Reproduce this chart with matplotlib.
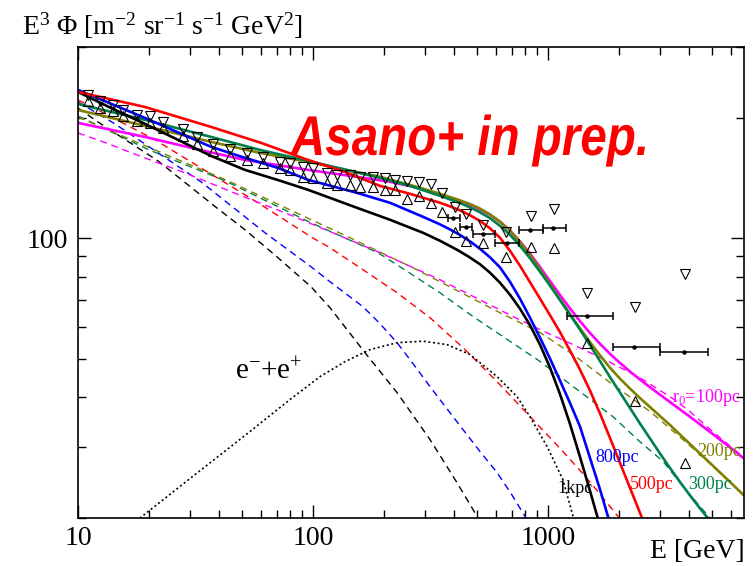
import numpy as np
import matplotlib
matplotlib.use('Agg')
import matplotlib.pyplot as plt
from matplotlib.ticker import FixedLocator, FixedFormatter, NullFormatter
from matplotlib.textpath import TextPath
from matplotlib.patches import PathPatch
from matplotlib.font_manager import FontProperties
from matplotlib.transforms import Affine2D

plt.rcParams['font.family'] = 'Liberation Serif'
plt.rcParams['mathtext.fontset'] = 'custom'
plt.rcParams['mathtext.rm'] = 'Liberation Serif'
plt.rcParams['mathtext.it'] = 'Liberation Serif:italic'
plt.rcParams['mathtext.bf'] = 'Liberation Serif:bold'

# measured data: upper (down triangles) and lower (up triangles) bounds
e_data = [11.03, 12.40, 14.09, 15.54, 17.83, 20.25, 22.99, 27.98, 32.09, 37.54,
          44.35, 52.38, 61.28, 72.37, 79.84, 90.67, 100.0, 114.7, 126.6, 143.7,
          158.5, 180.0, 202.5, 223.3, 251.2, 282.5, 317.8, 353.9, 402.1, 447.9,
          528.9, 662.6, 846.6, 1060.5, 1465.5, 2346, 3828]
f_up = [228.3, 219.3, 215.5, 209.4, 203.5, 201.2, 195.4, 186.8, 178.4, 171.4,
        166.5, 162.7, 159.8, 155.3, 153.6, 150.5, 149.7, 145.5, 143.9, 143.9,
        142.2, 142.2, 141.4, 139.8, 139.0, 138.2, 136.6, 129.7, 119.7, 115.0,
        107.9, 103.7, 113.7, 118.3, 73.0, 67.4, 81.5]
f_lo = [219.4, 210.8, 207.2, 201.3, 195.6, 193.4, 187.8, 179.5, 171.5, 164.7,
        160.0, 156.4, 153.6, 149.3, 147.6, 142.2, 141.4, 137.4, 135.9, 135.9,
        134.3, 134.3, 132.0, 132.0, 125.3, 127.5, 122.5, 116.3, 103.7, 98.5,
        97.3, 89.8, 95.1, 94.6, 54.8, 39.1, 27.5]

# binned points with horizontal bars
bin_e = [394.2, 447.9, 528.9, 669.2, 838.3, 1050, 1465.5, 2323, 3790]
bin_lo = [375.4, 422.3, 479.6, 595, 752.7, 952, 1204, 1891, 2997]
bin_hi = [422.3, 475, 595, 752.7, 952, 1193, 1891, 2997, 4796]
bin_f = [112.4, 106.7, 102.5, 97.3, 104.9, 106.1, 64.0, 53.6, 52.0]

# model curves: total (solid) and component (dashed) for each r0
e_1k = [10, 13.82, 19.28, 26.64, 36.81, 51.36, 70.97, 95.22, 153.9, 212.6, 293.8,
        347.1, 410.0, 456.6, 513.5, 566.4, 624.6, 688.9, 759.8, 838.2, 924.6,
        1019.8, 1124.7, 1240.6, 1368.3, 1509.1, 1632.2, 1664.5]
f_1k = [231.7, 211.3, 192.8, 175.9, 160.4, 148.0, 139.6, 132.0, 119.0, 111.1, 103.1,
        98.46, 93.5, 90.07, 86.02, 81.95, 77.36, 72.22, 66.64, 60.61, 54.19,
        47.49, 40.77, 34.33, 28.40, 23.37, 19.89, 19.05]
e_1k_d = [10, 12.16, 21.89, 39.42, 51.36, 70.97, 98.06, 118.1, 166.4, 227.8, 314.7,
          410.0, 498.8, 518.6]
f_1k_d = [211.3, 195.0, 155.9, 118.3, 104.9, 89.31, 75.60, 67.02, 51.75, 41.13, 31.4,
          24.5, 20.2, 19.38]

e_800 = [10, 19.28, 36.81, 51.36, 70.97, 95.22, 153.9, 212.6, 293.8, 347.1, 382.8,
         422.3, 465.7, 513.5, 566.4, 624.6, 688.9, 759.8, 838.2, 924.6, 1019.8,
         1124.7, 1240.6, 1368.3, 1509.1, 1664.5, 1835.8]
f_800 = [234.4, 199.5, 169.0, 158.6, 149.7, 139.8, 129.7, 122.5, 113.0, 108.2, 105.1,
         101.8, 98.12, 94.04, 89.53, 84.49, 77.80, 70.58, 63.25, 56.41, 50.00,
         44.06, 38.73, 33.84, 28.24, 23.57, 19.38]
e_800_d = [10, 14.37, 33.38, 62.49, 98.06, 118.1, 163.2, 192.8, 227.8, 266.4, 314.7,
           368.1, 434.8, 513.5, 606.7, 695.7, 798.4, 830.0]
f_800_d = [218.8, 192.8, 138.2, 103.1, 84.8, 77.8, 67.4, 61.13, 54.81, 48.59, 42.57,
           37.74, 33.26, 29.31, 25.98, 23.04, 20.18, 19.38]

e_500 = [10, 19.28, 36.81, 60.07, 95.22, 136.8, 192.8, 258.6, 347.1, 382.8, 422.3,
         465.7, 513.5, 566.4, 624.6, 688.9, 759.8, 838.2, 924.6, 1019.8, 1124.7,
         1240.6, 1368.3, 1509.1, 1664.5, 1835.8, 2024.8, 2233.3, 2463.2, 2586.4]
f_500 = [231.7, 212.5, 189.5, 172.9, 156.7, 146.3, 135.0, 129.0, 122.5, 120.0, 117.3,
         114.0, 110.4, 105.8, 100.2, 92.97, 85.29, 77.58, 70.58, 64.17, 58.22,
         52.36, 46.94, 41.60, 36.46, 31.67, 27.44, 23.77, 20.59, 19.16]
e_500_d = [10, 12.16, 21.27, 58.34, 98.06, 118.1, 163.2, 227.8, 314.7, 434.8, 606.7,
           838.2, 1158, 1368.3, 1616, 1986, 2085]
f_500_d = [221.2, 208.9, 175.9, 122.5, 100.7, 94.58, 83.37, 73.05, 63.25, 53.26, 43.81,
           35.84, 29.31, 26.28, 23.44, 20.18, 19.38]

e_300 = [10, 19.28, 36.81, 59.49, 95.22, 192.8, 258.6, 347.1, 382.8, 422.3, 465.7,
         513.5, 566.4, 624.6, 688.9, 759.8, 838.2, 924.6, 1019.8, 1124.7, 1240.6,
         1368.3, 1509.1, 1664.5, 1835.8, 2024.8, 2233.3, 2463.2, 2716.7, 2996.4,
         3304.8, 3645.0, 4020.4, 4434.3, 4890.7]
f_300 = [216.2, 197.3, 178.9, 166.0, 155.9, 141.4, 135.0, 127.5, 124.9, 122.3, 119.3,
         116.0, 112.1, 107.3, 101.9, 95.68, 89.05, 82.42, 76.06, 69.97, 64.35,
         59.06, 54.03, 49.29, 44.95, 41.13, 37.63, 34.42, 31.59, 28.97,
         26.66, 24.60, 22.77, 21.13, 19.67]
e_300_d = [10, 20.05, 42.22, 98.06, 189.1, 234.6, 347.1, 479.6, 924.7, 1891, 2463,
           3087, 3904, 4891, 5036]
f_300_d = [201.8, 166.0, 139.0, 109.2, 91.9, 84.8, 73.0, 63.7, 49.2, 35.8, 31.0,
           27.7, 23.3, 20.0, 19.3]

e_200 = [10, 19.28, 36.81, 59.49, 95.22, 192.8, 258.6, 347.1, 382.8, 422.3, 465.7,
         513.5, 566.4, 624.6, 688.9, 759.8, 838.2, 924.6, 1019.8, 1124.7, 1240.6,
         1368.3, 1509.1, 1664.5, 1835.8, 2024.8, 2233.3, 2463.2, 2716.7, 2996.4,
         3304.8, 3645.0, 4020.4, 4434.3, 4890.7, 5394.1, 5949.8, 6823]
f_200 = [208.9, 190.6, 173.9, 163.2, 155.0, 142.2, 135.8, 129.0, 126.6, 124.2, 121.6,
         118.5, 114.6, 109.9, 104.3, 97.79, 90.75, 83.60, 76.71, 70.37, 64.61,
         59.50, 54.97, 50.95, 47.43, 44.57, 42.08, 39.85, 37.85, 35.94,
         34.14, 32.31, 30.60, 28.97, 27.44, 25.98, 24.60, 22.77]
e_200_d = [10, 18.91, 43.49, 79.84, 143.7, 266.4, 347.1, 624.6, 924.7, 1278, 1835,
           2716, 3754, 5036, 6823]
f_200_d = [200.6, 170.9, 139.0, 117.6, 100.2, 84.3, 77.8, 65.1, 58.1, 51.2, 43.6,
           36.9, 31.4, 26.9, 22.8]

e_100 = [10, 19.28, 33.04, 51.36, 95.22, 153.9, 212.6, 293.8, 347.1, 382.8, 422.3,
         465.7, 513.5, 566.4, 624.6, 688.9, 759.8, 838.2, 924.6, 1019.8, 1124.7,
         1240.6, 1368.3, 1509.1, 1664.5, 1835.8, 2024.8, 2233.3, 2463.2, 2716.7,
         2996.4, 3304.8, 3645.0, 4020.4, 4434.3, 4890.7, 5394.1, 5949.8, 6823]
f_100 = [193.9, 178.9, 166.0, 156.7, 148.0, 142.2, 138.2, 132.7, 128.2, 126.0, 123.7,
         121.1, 118.0, 114.3, 109.8, 104.4, 98.18, 91.49, 84.64, 78.11, 72.09,
         66.71, 62.02, 57.95, 54.44, 51.40, 48.76, 46.41, 44.34, 42.42,
         40.63, 38.95, 37.33, 35.78, 34.27, 32.81, 31.39, 30.01, 28.15]
e_100_d = [10, 12.78, 17.83, 28.53, 48.43, 79.84, 189.1, 347.1, 709.8, 924.7, 1278,
           1783, 2463, 3402, 4021, 4891, 6823]
f_100_d = [183.1, 173.9, 161.3, 145.5, 128.2, 114.3, 92.4, 78.7, 63.7, 59.1, 54.2,
           49.4, 44.8, 39.7, 36.88, 33.3, 28.3]

# e- + e+ source component (dotted)
e_src = [16.98, 18.36, 29.97, 51.36, 79.84, 107.1, 136.8, 174.8, 227.8, 293.8,
         371.7, 465.6, 606.7, 738.2, 838.3, 990, 1158, 1278, 1303]
f_src = [19.4, 20.0, 25.10, 32.14, 39.53, 45.09, 49.14, 52.65, 54.8, 55.28,
         54.2, 51.2, 45.1, 40.2, 35.8, 30.2, 24.9, 20.2, 19.4]

GREEN = '#00804a'
OLIVE = '#808000'

fig = plt.figure(figsize=(7.55, 5.66), dpi=100)
ax = fig.add_axes([78/755, 1-518/566, (744-78)/755, (518-47)/566])
ax.set_xscale('log')
ax.set_yscale('log')

dash = (5, 3.5)
for e, f, c in [(e_1k_d, f_1k_d, 'black'), (e_800_d, f_800_d, 'blue'),
                (e_500_d, f_500_d, 'red'), (e_300_d, f_300_d, GREEN),
                (e_200_d, f_200_d, OLIVE), (e_100_d, f_100_d, 'magenta')]:
    ax.plot(e, f, color=c, lw=1.0, dashes=dash)

ax.plot(e_src, f_src, color='black', lw=1.2, linestyle=(0, (1.2, 1.6)))

for e, f, c in [(e_100, f_100, 'magenta'), (e_200, f_200, OLIVE),
                (e_300, f_300, GREEN), (e_1k, f_1k, 'black'),
                (e_800, f_800, 'blue'), (e_500, f_500, 'red')]:
    ax.plot(e, f, color=c, lw=1.9, solid_joinstyle='round')

ax.plot(e_data, f_up, 'v', mfc='none', mec='black', ms=7.2, mew=0.8, zorder=5)
ax.plot(e_data, f_lo, '^', mfc='none', mec='black', ms=7.2, mew=0.8, zorder=5)

be = np.array(bin_e)
ax.errorbar(be, bin_f, xerr=[be - np.array(bin_lo), np.array(bin_hi) - be],
            fmt='o', ms=2.2, color='black', elinewidth=1.1, capsize=3,
            capthick=1.1, zorder=6)

ax.set_xlim(10, 6823)
ax.set_ylim(20, 300)

ax.xaxis.set_major_locator(FixedLocator([10, 100, 1000]))
ax.xaxis.set_major_formatter(FixedFormatter(['10', '100', '1000']))
xminor = [m * d for d in (10, 100, 1000) for m in range(2, 10) if m * d < 6823]
ax.xaxis.set_minor_locator(FixedLocator(xminor))
ax.xaxis.set_minor_formatter(NullFormatter())
ax.yaxis.set_major_locator(FixedLocator([100]))
ax.yaxis.set_major_formatter(FixedFormatter(['100']))
ax.yaxis.set_minor_locator(FixedLocator([20, 30, 40, 50, 60, 70, 80, 90, 200, 300]))
ax.yaxis.set_minor_formatter(NullFormatter())

ax.tick_params(which='both', direction='in', top=True, right=True,
               labelsize=20, width=1.0)
ax.tick_params(which='major', length=9.5)
ax.tick_params(which='minor', length=5.5)
ax.tick_params(axis='x', pad=6)
ax.tick_params(axis='y', pad=7)
for s in ax.spines.values():
    s.set_linewidth(1.2)

fig.text(22/755, 1-35/566, r'E$^{3}$ $\Phi$ [m$^{-2}$ sr$^{-1}$ s$^{-1}$ GeV$^{2}$]',
         fontsize=20, ha='left', va='baseline')
fig.text(745/755, 1-558/566, 'E [GeV]', fontsize=20, ha='right', va='baseline')

# stamp text, squeezed horizontally to the narrow face of the original
tp = TextPath((0, 0), 'Asano+ in prep.', size=56,
              prop=FontProperties(family='Liberation Sans', weight='bold', style='italic'))
bb = tp.get_extents()
sx = 355.0 / bb.width
stamp_tr = Affine2D().translate(-bb.x0, 0).scale(sx / 100, 1 / 100) \
    .translate(290 / 100, (566 - 155) / 100) + fig.dpi_scale_trans
fig.add_artist(PathPatch(tp, transform=stamp_tr, facecolor='red', edgecolor='none'))

ax.text(46.6, 46.4, r'e$^{-}$+e$^{+}$', fontsize=21, ha='left', va='center')
ax.text(3371, 40.0, r'r$_{0}$=100pc', fontsize=13, color='magenta', ha='left', va='center')
ax.text(4305, 29.3, '200pc', fontsize=13, color=OLIVE, ha='left', va='center')
ax.text(3941, 24.3, '300pc', fontsize=13, color=GREEN, ha='left', va='center')
ax.text(2233, 24.3, '500pc', fontsize=13, color='red', ha='left', va='center')
ax.text(1585, 28.3, '800pc', fontsize=13, color='blue', ha='left', va='center')
ax.text(1092, 23.7, '1kpc', fontsize=13, color='black', ha='left', va='center')

fig.savefig('out.png', dpi=100)
